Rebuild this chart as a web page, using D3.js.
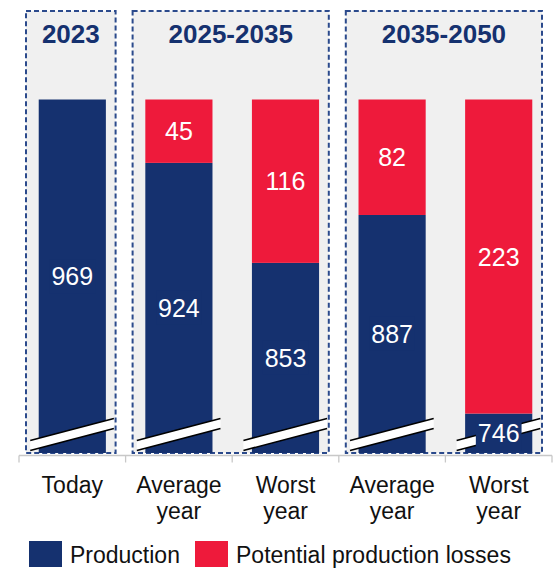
<!DOCTYPE html>
<html>
<head>
<meta charset="utf-8">
<script src="https://cdn.jsdelivr.net/npm/d3@7/dist/d3.min.js"></script>
<style>
  html, body { margin: 0; padding: 0; background: #fff; }
  svg { display: block; font-family: "Liberation Sans", Arial, sans-serif; }
</style>
</head>
<body>
<svg id="chart" width="554" height="570"></svg>
<script>
// Categories along the x axis (one entry per bar)
const categories = ["Today", "Average year", "Worst year", "Average year", "Worst year"];
// Production and potential losses per bar
const production = [969, 924, 853, 887, 746];
const losses = [0, 45, 116, 82, 223];
// Period headers and the bars each one spans
const periods = ["2023", "2025-2035", "2035-2050"];
const periodStart = [0, 1, 3];
const periodEnd = [0, 2, 4];
// Value at the broken baseline of the y axis
const axisBreakValue = 718;
const legendLabels = ["Production", "Potential production losses"];

const NAVY = "#15316f";
const RED = "#ee1a3b";
const PANEL = "#f0f0f0";

const svg = d3.select("#chart");

const x = d3.scaleBand()
  .domain(d3.range(categories.length))
  .range([19, 552])
  .paddingInner(0.37)
  .paddingOuter(0.185);

const y = d3.scaleLinear()
  .domain([axisBreakValue, 969])
  .range([453, 99.5]);

const step = x.step();
const bandStart = i => x(i) - (step - x.bandwidth()) / 2;

// Period panels: grey background with dashed navy border
const panelTop = 11, panelBottom = y(axisBreakValue);
periods.forEach((p, k) => {
  const x0 = bandStart(periodStart[k]) + 7;
  const x1 = bandStart(periodEnd[k]) + step - 10;
  svg.append("rect")
    .attr("x", x0).attr("y", panelTop)
    .attr("width", x1 - x0).attr("height", panelBottom - panelTop)
    .attr("fill", PANEL)
    .attr("stroke", "#2b4a8c")
    .attr("stroke-width", 2)
    .attr("stroke-dasharray", "5,3");
  svg.append("text")
    .attr("x", (x0 + x1) / 2).attr("y", 43)
    .attr("text-anchor", "middle")
    .attr("font-size", 26).attr("font-weight", "bold")
    .attr("fill", NAVY)
    .text(p);
});

// Stacked bars
const bars = svg.append("g");
categories.forEach((c, i) => {
  bars.append("rect")
    .attr("x", x(i)).attr("width", x.bandwidth())
    .attr("y", y(production[i]))
    .attr("height", y(axisBreakValue) - y(production[i]))
    .attr("fill", NAVY);
  if (losses[i] > 0) {
    bars.append("rect")
      .attr("x", x(i)).attr("width", x.bandwidth())
      .attr("y", y(production[i] + losses[i]))
      .attr("height", y(production[i]) - y(production[i] + losses[i]))
      .attr("fill", RED);
  }
});

// Axis-break stripes across the lower part of each bar
const breakG = svg.append("g");
categories.forEach((c, i) => {
  const xl = x(i) - 8.5, xr = x(i) + x.bandwidth() + 8;
  const yl = y(axisBreakValue) - 12.5, yr = y(axisBreakValue) - 34.5, gap = 10;
  breakG.append("polygon")
    .attr("points", [[xl, yl], [xr, yr], [xr, yr + gap], [xl, yl + gap]].join(" "))
    .attr("fill", "#fff");
  [0, gap].forEach(d => {
    breakG.append("line")
      .attr("x1", xl).attr("y1", yl + d)
      .attr("x2", xr).attr("y2", yr + d)
      .attr("stroke", "#000").attr("stroke-width", 1.6);
  });
});

// Value labels (production labels sit on a navy box that masks the break)
const labels = svg.append("g")
  .attr("font-size", 25).attr("fill", "#fff").attr("text-anchor", "middle");
categories.forEach((c, i) => {
  const cx = x(i) + x.bandwidth() / 2;
  const segTop = y(production[i]), segBottom = y(axisBreakValue);
  const yp = (segTop + segBottom) / 2;
  const bg = labels.append("rect").attr("fill", NAVY);
  const t = labels.append("text")
    .attr("x", cx).attr("y", yp).attr("dy", "0.36em")
    .text(production[i]);
  const bb = t.node().getBBox();
  const top = Math.max(bb.y - 3, segTop + 0.5);
  const bottom = Math.min(bb.y + bb.height + 3, segBottom);
  bg.attr("x", bb.x - 2).attr("width", bb.width + 4)
    .attr("y", top).attr("height", bottom - top);
  if (losses[i] > 0) {
    const yl = (y(production[i] + losses[i]) + y(production[i])) / 2;
    labels.append("text")
      .attr("x", cx).attr("y", yl).attr("dy", "0.36em")
      .text(losses[i]);
  }
});

// Category axis
const axisY = 455.5;
const axis = svg.append("g")
  .attr("transform", `translate(0,${axisY})`)
  .call(d3.axisBottom(x).tickSize(0).tickSizeOuter(0).tickFormat(i => categories[i]));
axis.select(".domain").attr("stroke", "#c8c8c8").attr("stroke-width", 1.3)
  .attr("d", "M19,0H552");
axis.selectAll(".tick text")
  .attr("font-size", 23).attr("fill", "#111").attr("font-family", "Liberation Sans, Arial, sans-serif")
  .each(function(i) {
    const words = categories[i].split(" ");
    const t = d3.select(this).text(null).attr("y", 0).attr("dy", null);
    words.forEach((w, k) => {
      t.append("tspan").attr("x", 0).attr("y", 37 + k * 26).text(w);
    });
  });
// Boundary ticks between categories
d3.range(categories.length + 1).forEach(k => {
  const tx = k < categories.length ? bandStart(k) : bandStart(categories.length - 1) + step;
  svg.append("line")
    .attr("x1", tx).attr("x2", tx)
    .attr("y1", axisY).attr("y2", axisY + 7)
    .attr("stroke", "#c8c8c8").attr("stroke-width", 1.3);
});

// Legend
const legend = svg.append("g").attr("font-size", 23).attr("fill", "#111");
const legendX = [29, 195];
legendLabels.forEach((l, k) => {
  legend.append("rect")
    .attr("x", legendX[k]).attr("y", 541)
    .attr("width", 33).attr("height", 26)
    .attr("fill", k === 0 ? NAVY : RED);
  legend.append("text")
    .attr("x", legendX[k] + 41).attr("y", 563)
    .text(l);
});
</script>
</body>
</html>
